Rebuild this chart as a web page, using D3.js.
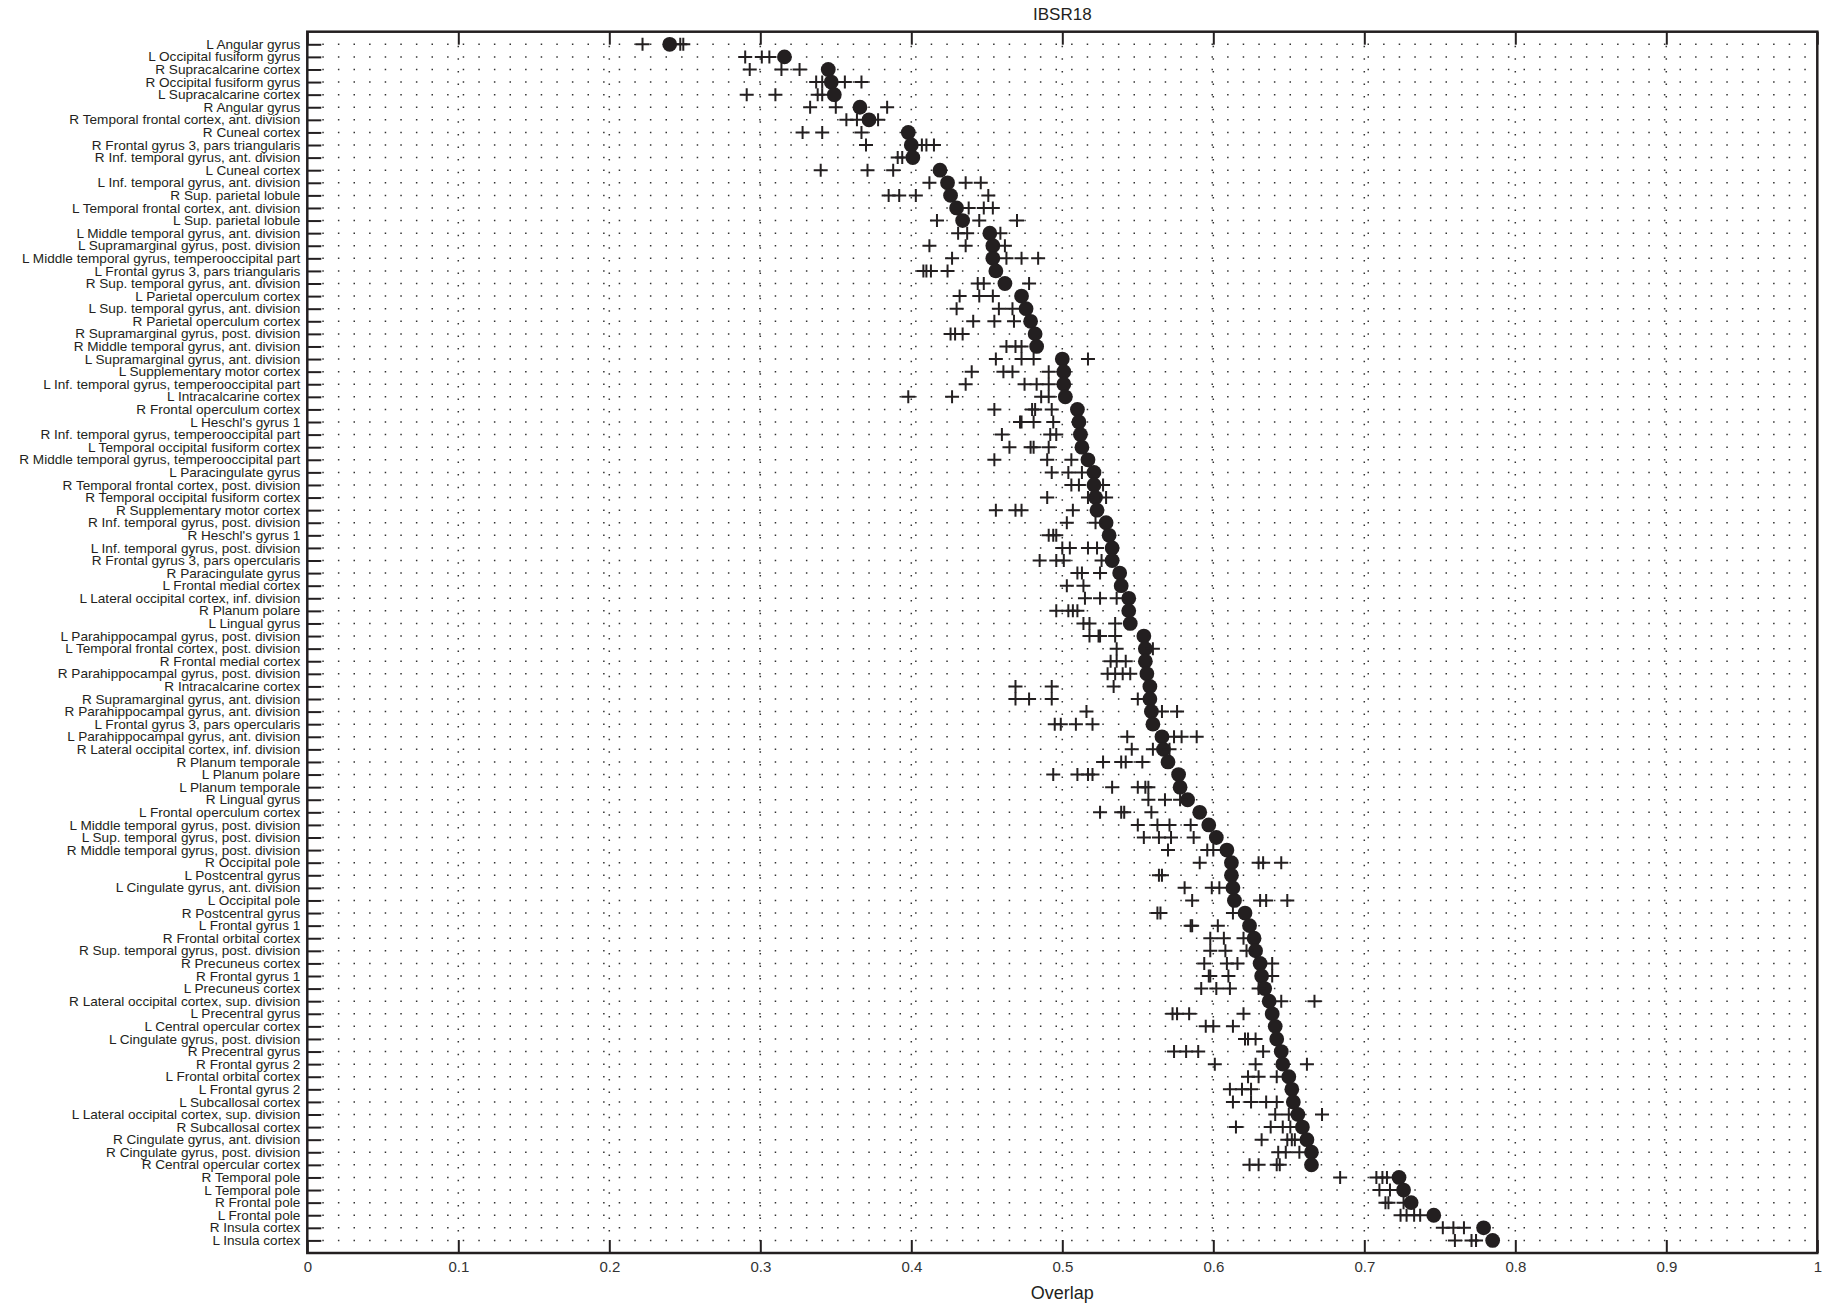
<!doctype html>
<html>
<head>
<meta charset="utf-8">
<title>IBSR18</title>
<script src="https://cdn.jsdelivr.net/npm/d3@7"></script>
<style>
  body { margin: 0; background: #fff; }
  svg text { font-family: "Liberation Sans", Arial, Helvetica, sans-serif; fill: #231f20; }
</style>
</head>
<body>
<svg id="chart" width="1832" height="1305"></svg>
<script>
// region names, top to bottom
var regions = [
  "L Angular gyrus", "L Occipital fusiform gyrus", "R Supracalcarine cortex",
  "R Occipital fusiform gyrus", "L Supracalcarine cortex", "R Angular gyrus",
  "R Temporal frontal cortex, ant. division", "R Cuneal cortex",
  "R Frontal gyrus 3, pars triangularis", "R Inf. temporal gyrus, ant. division",
  "L Cuneal cortex", "L Inf. temporal gyrus, ant. division", "R Sup. parietal lobule",
  "L Temporal frontal cortex, ant. division", "L Sup. parietal lobule",
  "L Middle temporal gyrus, ant. division", "L Supramarginal gyrus, post. division",
  "L Middle temporal gyrus, temperooccipital part", "L Frontal gyrus 3, pars triangularis",
  "R Sup. temporal gyrus, ant. division", "L Parietal operculum cortex",
  "L Sup. temporal gyrus, ant. division", "R Parietal operculum cortex",
  "R Supramarginal gyrus, post. division", "R Middle temporal gyrus, ant. division",
  "L Supramarginal gyrus, ant. division", "L Supplementary motor cortex",
  "L Inf. temporal gyrus, temperooccipital part", "L Intracalcarine cortex",
  "R Frontal operculum cortex", "L Heschl's gyrus 1",
  "R Inf. temporal gyrus, temperooccipital part", "L Temporal occipital fusiform cortex",
  "R Middle temporal gyrus, temperooccipital part", "L Paracingulate gyrus",
  "R Temporal frontal cortex, post. division", "R Temporal occipital fusiform cortex",
  "R Supplementary motor cortex", "R Inf. temporal gyrus, post. division",
  "R Heschl's gyrus 1", "L Inf. temporal gyrus, post. division",
  "R Frontal gyrus 3, pars opercularis", "R Paracingulate gyrus", "L Frontal medial cortex",
  "L Lateral occipital cortex, inf. division", "R Planum polare", "L Lingual gyrus",
  "L Parahippocampal gyrus, post. division", "L Temporal frontal cortex, post. division",
  "R Frontal medial cortex", "R Parahippocampal gyrus, post. division",
  "R Intracalcarine cortex", "R Supramarginal gyrus, ant. division",
  "R Parahippocampal gyrus, ant. division", "L Frontal gyrus 3, pars opercularis",
  "L Parahippocampal gyrus, ant. division", "R Lateral occipital cortex, inf. division",
  "R Planum temporale", "L Planum polare", "L Planum temporale", "R Lingual gyrus",
  "L Frontal operculum cortex", "L Middle temporal gyrus, post. division",
  "L Sup. temporal gyrus, post. division", "R Middle temporal gyrus, post. division",
  "R Occipital pole", "L Postcentral gyrus", "L Cingulate gyrus, ant. division",
  "L Occipital pole", "R Postcentral gyrus", "L Frontal gyrus 1", "R Frontal orbital cortex",
  "R Sup. temporal gyrus, post. division", "R Precuneus cortex", "R Frontal gyrus 1",
  "L Precuneus cortex", "R Lateral occipital cortex, sup. division", "L Precentral gyrus",
  "L Central opercular cortex", "L Cingulate gyrus, post. division", "R Precentral gyrus",
  "R Frontal gyrus 2", "L Frontal orbital cortex", "L Frontal gyrus 2",
  "L Subcallosal cortex", "L Lateral occipital cortex, sup. division",
  "R Subcallosal cortex", "R Cingulate gyrus, ant. division",
  "R Cingulate gyrus, post. division", "R Central opercular cortex", "R Temporal pole",
  "L Temporal pole", "R Frontal pole", "L Frontal pole", "R Insula cortex", "L Insula cortex"
];

// big dots
var meanOverlap = [
  0.240, 0.316, 0.345, 0.347, 0.349, 0.366, 0.372, 0.398, 0.400, 0.401,
  0.419, 0.424, 0.426, 0.430, 0.434, 0.452, 0.454, 0.454, 0.456, 0.462,
  0.473, 0.476, 0.479, 0.482, 0.483, 0.500, 0.501, 0.501, 0.502, 0.510,
  0.511, 0.512, 0.513, 0.517, 0.521, 0.521, 0.522, 0.523, 0.529, 0.531,
  0.533, 0.533, 0.538, 0.539, 0.544, 0.544, 0.545, 0.554, 0.555, 0.555,
  0.556, 0.558, 0.558, 0.559, 0.560, 0.566, 0.567, 0.570, 0.577, 0.578,
  0.583, 0.591, 0.597, 0.602, 0.609, 0.612, 0.612, 0.613, 0.614, 0.621,
  0.624, 0.627, 0.628, 0.631, 0.632, 0.634, 0.637, 0.639, 0.641, 0.642,
  0.645, 0.646, 0.650, 0.652, 0.653, 0.656, 0.659, 0.662, 0.665, 0.665,
  0.723, 0.726, 0.731, 0.746, 0.779, 0.785
];

// crosses, one list per region
var subjectOverlaps = [
  [0.222, 0.247, 0.249], [0.290, 0.301, 0.306], [0.293, 0.314, 0.326],
  [0.337, 0.341, 0.356, 0.367], [0.291, 0.310, 0.338, 0.341], [0.333, 0.350, 0.384],
  [0.357, 0.364, 0.378], [0.328, 0.341, 0.367], [0.370, 0.407, 0.410, 0.415],
  [0.391, 0.394], [0.340, 0.371, 0.388], [0.412, 0.436, 0.446],
  [0.385, 0.392, 0.403, 0.451], [0.438, 0.448, 0.454], [0.417, 0.445, 0.470],
  [0.431, 0.437, 0.459], [0.412, 0.436, 0.462], [0.427, 0.463, 0.473, 0.484],
  [0.408, 0.410, 0.413, 0.424], [0.444, 0.448, 0.478], [0.432, 0.445, 0.454],
  [0.430, 0.458, 0.467], [0.441, 0.455, 0.468], [0.426, 0.429, 0.434],
  [0.463, 0.469, 0.473], [0.456, 0.473, 0.481, 0.517], [0.440, 0.461, 0.467, 0.491],
  [0.436, 0.475, 0.483, 0.491], [0.398, 0.427, 0.486, 0.491], [0.455, 0.480, 0.482, 0.493],
  [0.472, 0.473, 0.481, 0.494], [0.460, 0.492, 0.496], [0.465, 0.479, 0.481, 0.491],
  [0.455, 0.490, 0.506], [0.493, 0.504, 0.513], [0.506, 0.511, 0.527],
  [0.490, 0.517, 0.529], [0.456, 0.469, 0.473, 0.507], [0.503, 0.522],
  [0.491, 0.494, 0.496], [0.500, 0.505, 0.517, 0.523], [0.485, 0.496, 0.501, 0.526],
  [0.510, 0.513, 0.525], [0.503, 0.514], [0.515, 0.525, 0.536],
  [0.496, 0.504, 0.507, 0.510], [0.514, 0.518, 0.535], [0.518, 0.524, 0.525, 0.535],
  [0.536, 0.560], [0.532, 0.536, 0.542], [0.530, 0.535, 0.540, 0.545],
  [0.469, 0.493, 0.534], [0.469, 0.478, 0.493, 0.550], [0.516, 0.566, 0.576],
  [0.495, 0.499, 0.509, 0.520], [0.543, 0.574, 0.579, 0.589], [0.546, 0.560, 0.571],
  [0.527, 0.539, 0.542, 0.553], [0.494, 0.510, 0.517, 0.520], [0.533, 0.550, 0.555, 0.557],
  [0.557, 0.568, 0.578], [0.525, 0.539, 0.541, 0.559], [0.550, 0.563, 0.571, 0.585],
  [0.554, 0.564, 0.572, 0.587], [0.570, 0.596, 0.600], [0.591, 0.630, 0.633, 0.645],
  [0.564, 0.566], [0.581, 0.599, 0.604], [0.586, 0.631, 0.635, 0.649],
  [0.563, 0.565, 0.613], [0.585, 0.586, 0.603], [0.598, 0.607, 0.620],
  [0.598, 0.608, 0.622], [0.594, 0.609, 0.616, 0.639], [0.597, 0.598, 0.610, 0.639],
  [0.592, 0.602, 0.611, 0.630], [0.645, 0.667], [0.573, 0.576, 0.584, 0.620],
  [0.595, 0.600, 0.613], [0.621, 0.623, 0.628], [0.574, 0.582, 0.590, 0.633],
  [0.601, 0.628, 0.662], [0.623, 0.630, 0.642], [0.611, 0.619, 0.625],
  [0.613, 0.625, 0.635, 0.642], [0.641, 0.650, 0.672], [0.615, 0.638, 0.646, 0.651],
  [0.632, 0.649, 0.652, 0.654], [0.643, 0.648, 0.657], [0.624, 0.630, 0.642, 0.644],
  [0.684, 0.708, 0.712, 0.715], [0.710, 0.717], [0.714, 0.716, 0.726],
  [0.724, 0.728, 0.733, 0.737], [0.752, 0.759, 0.766], [0.760, 0.771, 0.774]
];

var xTicks = [0, 0.1, 0.2, 0.3, 0.4, 0.5, 0.6, 0.7, 0.8, 0.9, 1];

(function() {
  // note: "top" is a read-only window property, so keep these local
  var plotL = 307.3, plotR = 1817.3, plotT = 31.7, plotB = 1253;
  var ink = "#231f20";

  var svg = d3.select("#chart");

  var x = d3.scaleLinear().domain([0, 1]).range([plotL, plotR]);
  // rows sit at 1..n, with one empty step above and below
  var y = d3.scaleLinear().domain([0, regions.length + 1]).range([plotT, plotB]);

  var rows = regions.map(function(name, i) {
    return { name: name, row: i + 1, mean: meanOverlap[i], subjects: subjectOverlaps[i] };
  });

  // dotted grid
  svg.append("g").selectAll("line")
    .data(rows).enter().append("line")
    .attr("x1", plotL + 15).attr("x2", plotR)
    .attr("y1", function(d) { return y(d.row); })
    .attr("y2", function(d) { return y(d.row); })
    .attr("stroke", "#333").attr("stroke-width", 1.5)
    .attr("stroke-dasharray", "1.5,14.1");

  svg.append("g").selectAll("line")
    .data(xTicks.slice(1, -1)).enter().append("line")
    .attr("x1", function(d) { return x(d); })
    .attr("x2", function(d) { return x(d); })
    .attr("y1", plotT + 14).attr("y2", plotB - 14)
    .attr("stroke", "#333").attr("stroke-width", 1.5)
    .attr("stroke-dasharray", "1.5,11.1");

  // axes, ticks pointing inwards
  svg.append("g")
    .attr("transform", "translate(0," + plotB + ")")
    .call(d3.axisBottom(x).tickValues(xTicks).tickFormat(d3.format("")).tickSize(-13).tickPadding(8))
    .call(function(g) {
      g.select(".domain").remove();
      g.selectAll("line").attr("stroke", ink).attr("stroke-width", 2);
      g.selectAll("text").attr("font-size", 15).style("fill", "#333");
    });

  svg.append("g")
    .attr("transform", "translate(0," + plotT + ")")
    .call(d3.axisTop(x).tickValues(xTicks).tickFormat("").tickSize(-13))
    .call(function(g) {
      g.select(".domain").remove();
      g.selectAll("line").attr("stroke", ink).attr("stroke-width", 2);
    });

  svg.append("g")
    .attr("transform", "translate(" + plotL + ",0)")
    .call(d3.axisLeft(y).tickValues(d3.range(1, regions.length + 1))
      .tickFormat(function(d) { return regions[d - 1]; })
      .tickSize(-14).tickPadding(7))
    .call(function(g) {
      g.select(".domain").remove();
      g.selectAll("line").attr("stroke", ink).attr("stroke-width", 2);
      g.selectAll("text").attr("font-size", 13.6).attr("dy", "0.3em").style("fill", ink);
    });

  // frame
  svg.append("rect")
    .attr("x", plotL).attr("y", plotT)
    .attr("width", plotR - plotL).attr("height", plotB - plotT)
    .attr("fill", "none").attr("stroke", ink).attr("stroke-width", 2.5);

  // dots
  svg.append("g").selectAll("circle")
    .data(rows).enter().append("circle")
    .attr("cx", function(d) { return x(d.mean); })
    .attr("cy", function(d) { return y(d.row); })
    .attr("r", 7.4)
    .attr("fill", ink);

  // crosses
  var crosses = [];
  rows.forEach(function(d) {
    d.subjects.forEach(function(v) { crosses.push({ row: d.row, v: v }); });
  });
  svg.append("g").selectAll("path")
    .data(crosses).enter().append("path")
    .attr("transform", function(d) { return "translate(" + x(d.v) + "," + y(d.row) + ")"; })
    .attr("d", "M-7,0H7M0,-6.5V6.5")
    .attr("stroke", ink).attr("stroke-width", 2)
    .attr("fill", "none");

  // titles
  svg.append("text")
    .attr("x", (plotL + plotR) / 2).attr("y", 20)
    .attr("text-anchor", "middle").attr("font-size", 17)
    .text("IBSR18");

  svg.append("text")
    .attr("x", (plotL + plotR) / 2).attr("y", 1299)
    .attr("text-anchor", "middle").attr("font-size", 18)
    .text("Overlap");
})();
</script>
</body>
</html>
